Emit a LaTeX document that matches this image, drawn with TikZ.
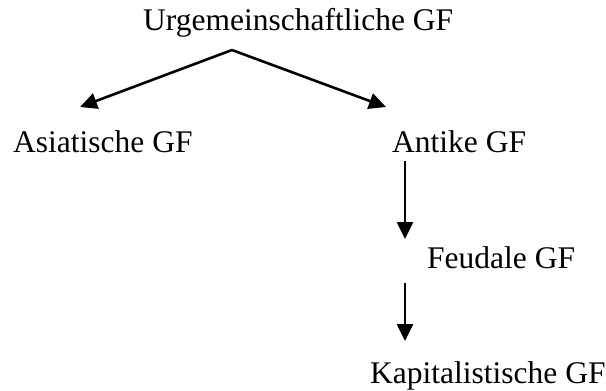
\documentclass[tikz,border=0pt]{standalone}
\usepackage{fontspec}
\setmainfont{Liberation Serif}
\usetikzlibrary{arrows.meta}
\begin{document}
\begin{tikzpicture}[x=1pt,y=-1pt,
  lbl/.style={anchor=base west,inner sep=0pt,font=\fontsize{31.5}{36}\selectfont},
  conn/.style={line width=2.6pt,-{Triangle[length=17pt,width=16pt]}}]
\useasboundingbox (0,0) rectangle (606,391);
\node[lbl] (urg) at (143,30) {Urgemeinschaftliche GF};
\node[lbl] (asi) at (13,152) {Asiatische GF};
\node[lbl] (ant) at (392,152) {Antike GF};
\node[lbl] (feu) at (427,268) {Feudale GF};
\node[lbl] (kap) at (370,383) {Kapitalistische GF};
\coordinate (apex) at (232,50);
\coordinate (tipA) at (80,107);
\coordinate (tipB) at (386,107);
\coordinate (v1s) at (405,161);
\coordinate (v1e) at (405,239);
\coordinate (v2s) at (405,283);
\coordinate (v2e) at (405,341);
\draw[conn] (apex) -- (tipA);
\draw[conn] (apex) -- (tipB);
\draw[conn] (v1s) -- (v1e);
\draw[conn] (v2s) -- (v2e);
\end{tikzpicture}
\end{document}
